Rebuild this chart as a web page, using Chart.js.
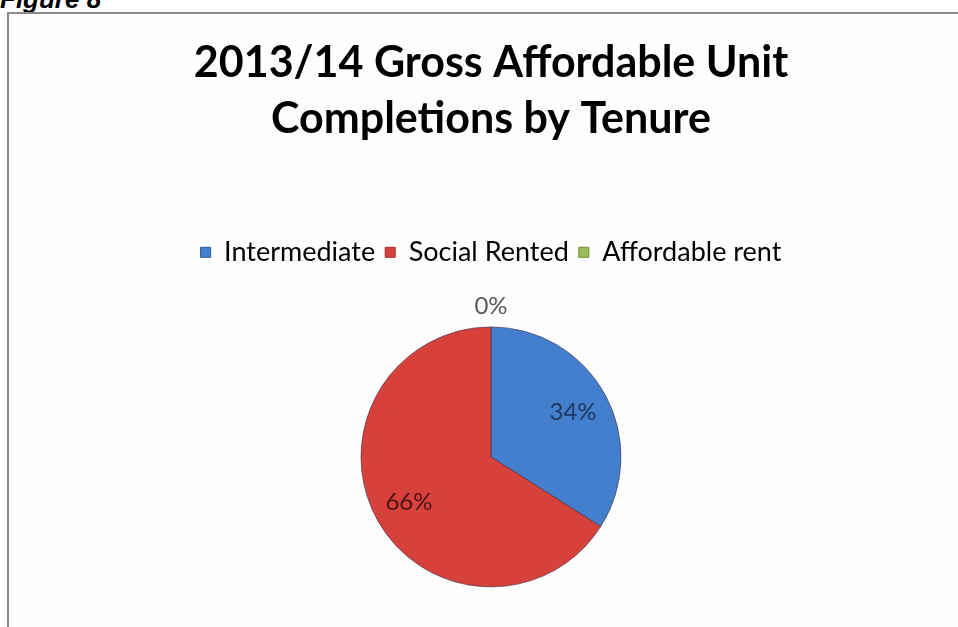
<!DOCTYPE html>
<html>
<head>
<meta charset="utf-8">
<script src="https://cdn.jsdelivr.net/npm/chart.js@4.4.1/dist/chart.umd.min.js"></script>
<style>
  html, body { margin: 0; padding: 0; background: #ffffff; }
  body { width: 958px; height: 627px; position: relative; overflow: hidden; }
  #caption {
    position: absolute; left: 0; top: -16px;
    font: italic bold 26px "Liberation Sans", Arial, sans-serif; color: #000;
  }
  #frame {
    position: absolute; left: 7px; top: 12px; width: 980px; height: 700px;
    border: 2px solid #8a8a8a; box-sizing: border-box; background: #fefefe;
  }
  #wrap { position: absolute; left: 0; top: 0; width: 958px; height: 627px; }
</style>
</head>
<body>
<div id="caption">Figure 8</div>
<div id="frame"></div>
<div id="wrap"><canvas id="chart" width="958" height="627"></canvas></div>
<script>
const titleLines = ['2013/14 Gross Affordable Unit', 'Completions by Tenure'];
const tenures = ['Intermediate', 'Social Rented', 'Affordable rent'];
const sharePercent = [34, 66, 0];
const sliceColors = ['#437fcd', '#d6413c', '#9bbb59'];
const sliceEdges = ['#2c5a98', '#a82c28', '#6f8e33'];
const labelColors = ['#1f3864', '#4d1212', '#595959'];

// Shade each slice from a lighter centre towards a darker rim.
function sliceFill(ctx) {
  const i = ctx.dataIndex;
  const chart = ctx.chart;
  const arc = chart.getDatasetMeta(0).data[i];
  if (!arc || !arc.outerRadius) return sliceColors[i];
  const g = chart.ctx.createRadialGradient(arc.x, arc.y, 0, arc.x, arc.y, arc.outerRadius);
  g.addColorStop(0, sliceColors[i]);
  g.addColorStop(0.88, sliceColors[i]);
  g.addColorStop(1, sliceEdges[i]);
  return g;
}

// Percentage labels: inside for the visible slices, just outside for an empty one.
const sliceLabels = {
  id: 'sliceLabels',
  afterDatasetsDraw(chart) {
    const { ctx } = chart;
    const meta = chart.getDatasetMeta(0);
    const data = chart.data.datasets[0].data;
    const total = data.reduce((a, b) => a + b, 0);
    ctx.save();
    ctx.font = '24px Lato';
    ctx.textAlign = 'center';
    ctx.textBaseline = 'middle';
    meta.data.forEach((arc, i) => {
      const { x, y, startAngle, endAngle, outerRadius } = arc.getProps(['x', 'y', 'startAngle', 'endAngle', 'outerRadius'], true);
      const mid = (startAngle + endAngle) / 2;
      const d = data[i] === 0 ? outerRadius + 21 : outerRadius * 0.72;
      ctx.fillStyle = labelColors[i];
      ctx.fillText(Math.round(data[i] / total * 100) + '%', x + Math.cos(mid) * d, y + Math.sin(mid) * d);
    });
    ctx.restore();
  }
};

new Chart(document.getElementById('chart'), {
  type: 'pie',
  data: {
    labels: tenures,
    datasets: [{
      data: sharePercent,
      backgroundColor: sliceFill,
      borderColor: 'rgba(60,45,70,0.6)',
      borderWidth: 1,
      radius: 130
    }]
  },
  options: {
    responsive: false,
    animation: false,
    layout: { padding: { left: 24, right: 0, top: 0, bottom: 41 } },
    plugins: {
      title: {
        display: true,
        text: titleLines,
        color: '#000000',
        font: { family: 'Lato', size: 43, weight: 'bold', lineHeight: 1.3 },
        padding: { top: 35, bottom: 82 }
      },
      subtitle: {
        display: true,
        text: '',
        position: 'top',
        weight: 500,
        font: { size: 10, lineHeight: 1 },
        padding: { top: 0, bottom: 42 }
      },
      legend: {
        position: 'top',
        labels: {
          color: '#363636',
          font: { family: 'Lato', size: 27 },
          boxWidth: 10,
          boxHeight: 10,
          padding: 10,
          generateLabels(chart) {
            return tenures.map((t, i) => ({
              text: t,
              fillStyle: sliceColors[i],
              strokeStyle: sliceEdges[i],
              lineWidth: 1,
              hidden: false,
              index: i
            }));
          }
        }
      },
      tooltip: { enabled: false }
    }
  },
  plugins: [sliceLabels]
});
</script>
</body>
</html>
